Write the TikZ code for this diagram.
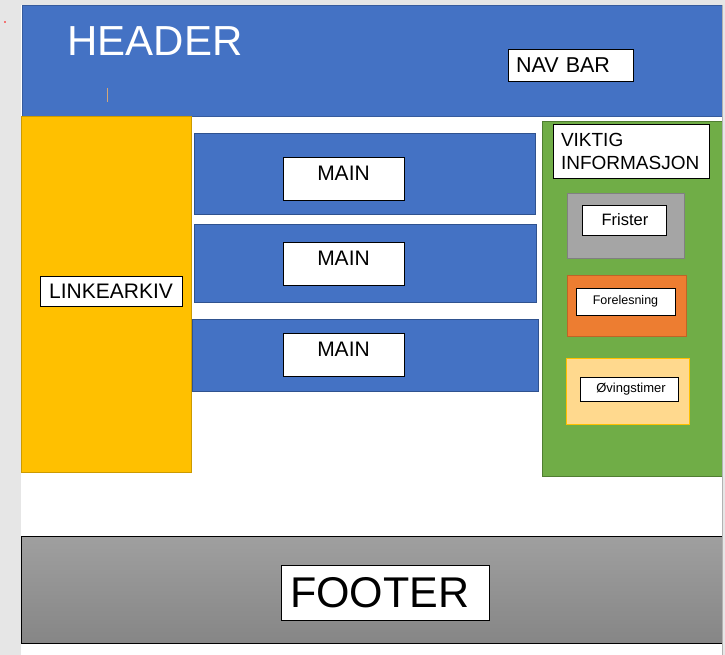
\documentclass[tikz,border=0pt]{standalone}
\usepackage{fontspec}
\setmainfont{Liberation Sans}
\usetikzlibrary{positioning}

\definecolor{hdrblue}{HTML}{4472C4}
\definecolor{edgeblue}{HTML}{2F528F}
\definecolor{linkyellow}{HTML}{FFC000}
\definecolor{infogreen}{HTML}{70AD47}
\definecolor{edgegreen}{HTML}{507E32}
\definecolor{fristgray}{HTML}{A5A5A5}
\definecolor{foreorange}{HTML}{ED7D31}
\definecolor{ovlight}{HTML}{FFD98E}
\definecolor{pagegray}{HTML}{E6E6E6}

\tikzset{
  region/.style={draw=#1!80!black, line width=0.6pt, inner sep=0pt},
  labelbox/.style={draw=black, fill=white, line width=0.8pt, inner sep=0pt},
}

\begin{document}
\begin{tikzpicture}[x=1pt, y=-1pt]
        \useasboundingbox (0,0) rectangle (725,655);
        % page
        \fill[pagegray] (0,0) rectangle (725,655);
        \fill[white] (21,5) rectangle (722,655);
        \fill[red] (5,22) circle (0.9);

        % header
        \node[region=hdrblue, fill=hdrblue, minimum width=700, minimum height=111] (header) at (372,60.5) {};
        \node[text=white, font=\fontsize{42}{44}\selectfont, inner sep=0pt] (headertext) at (155,41) {HEADER};
        \node[labelbox, minimum width=125, minimum height=32, font=\fontsize{21.5}{24}\selectfont, text width=109, align=left] (navbar) at (570.5,65) {NAV BAR};
        \coordinate (cursortop) at (107,88);
        \coordinate (cursorbot) at (107,102);
        \draw[brown!70, line width=0.5pt] (cursortop) -- (cursorbot);

        % link archive
        \node[region=linkyellow, fill=linkyellow, minimum width=170, minimum height=356] (linkarkiv) at (106,294) {};
        \node[labelbox, minimum width=142, minimum height=30, font=\fontsize{21}{24}\selectfont] (linklabel) at (111,291) {LINKEARKIV};

        % main blocks
        \node[draw=edgeblue, fill=hdrblue, minimum width=341, minimum height=81, inner sep=0pt] (main1) at (364.5,173.5) {};
        \node[draw=edgeblue, fill=hdrblue, minimum width=342, minimum height=78, inner sep=0pt] (main2) at (365,263) {};
        \node[draw=edgeblue, fill=hdrblue, minimum width=346, minimum height=72, inner sep=0pt] (main3) at (365,355) {};
        \node[labelbox, minimum width=121, minimum height=43, font=\fontsize{21}{24}\selectfont, text depth=10] (mainlabel1) at (343.5,178.5) {MAIN};
        \node[labelbox, minimum width=121, minimum height=43, font=\fontsize{21}{24}\selectfont, text depth=10] (mainlabel2) at (343.5,263.5) {MAIN};
        \node[labelbox, minimum width=121, minimum height=43, font=\fontsize{21}{24}\selectfont, text depth=10] (mainlabel3) at (343.5,354.5) {MAIN};

        % important info
        \node[draw=edgegreen, fill=infogreen, minimum width=180, minimum height=355, inner sep=0pt] (viktig) at (632,298.5) {};
        \node[labelbox, minimum width=156, minimum height=54, font=\fontsize{19}{23}\selectfont, align=left, text width=140] (viktiglabel) at (631,151) {VIKTIG\\INFORMASJON};

        \node[draw=gray, fill=fristgray, minimum width=117, minimum height=65, inner sep=0pt] (frister) at (625.5,225.5) {};
        \node[labelbox, minimum width=84, minimum height=30, font=\fontsize{16.5}{18}\selectfont] (fristerlabel) at (624,220) {\hspace*{2pt}Frister};

        \node[draw=foreorange!80!black, fill=foreorange, minimum width=119, minimum height=61, inner sep=0pt] (forelesning) at (626.5,305.5) {};
        \node[labelbox, minimum width=99, minimum height=27, font=\fontsize{12.5}{15}\selectfont] (forelesninglabel) at (625.5,301.5) {Forelesning};

        \node[draw=linkyellow, fill=ovlight, minimum width=123, minimum height=66, inner sep=0pt] (ovingstimer) at (627.5,391) {};
        \node[labelbox, minimum width=98, minimum height=24, font=\fontsize{13}{15}\selectfont] (ovingstimerlabel) at (629,389) {\hspace*{4pt}Øvingstimer};

        % footer
        \node[draw=black, line width=0.8pt, top color=gray!75, bottom color=gray!100!black!95, minimum width=701, minimum height=107, inner sep=0pt] (footer) at (371.5,589.5) {};
        \node[labelbox, minimum width=208, minimum height=55, font=\fontsize{43}{46}\selectfont, text width=190, align=left] (footerlabel) at (385,592.5) {FOOTER};

        \draw[gray!60] (722,5) -- (722,655);
      \end{tikzpicture}
\end{document}
